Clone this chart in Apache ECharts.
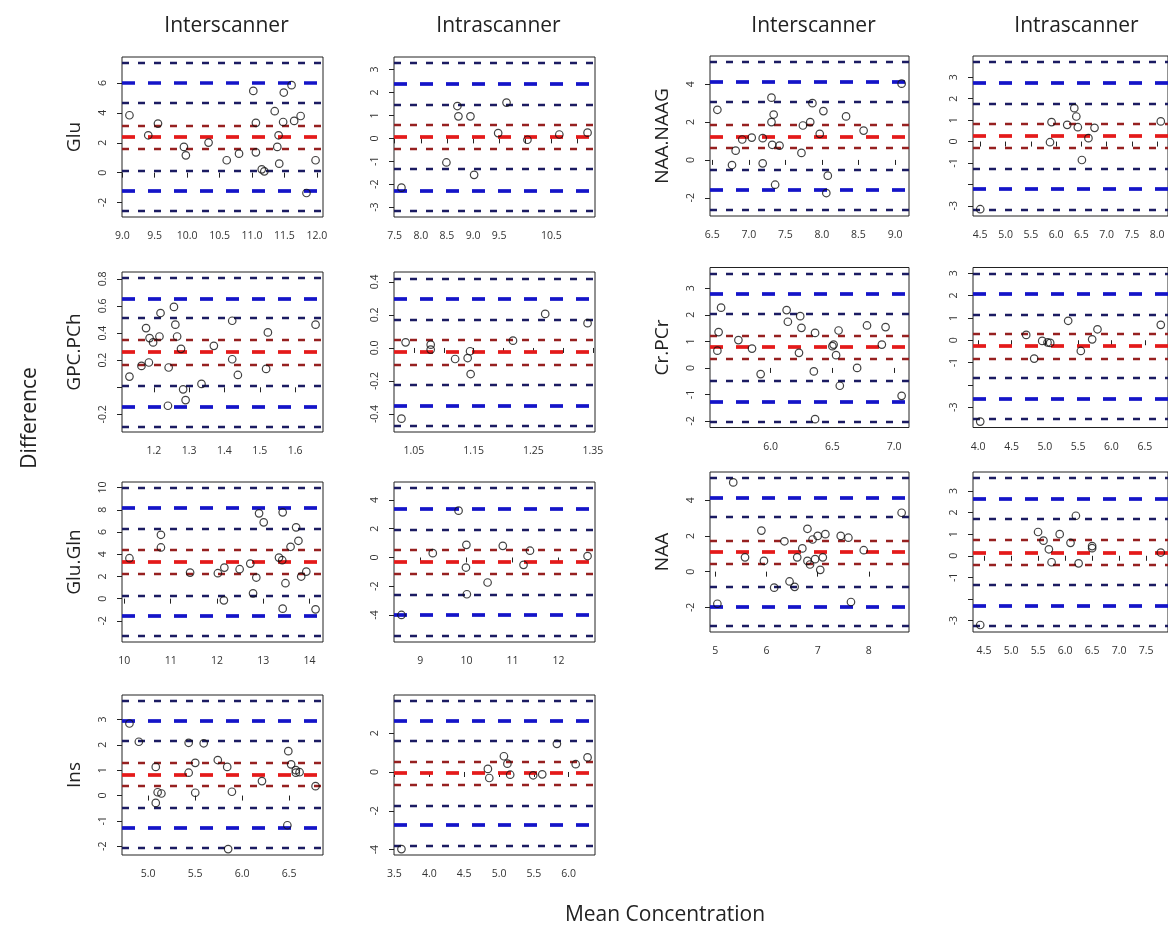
<!DOCTYPE html>
<html>
<head>
<meta charset="utf-8">
<script src="https://cdn.jsdelivr.net/npm/echarts@6/dist/echarts.min.js"></script>
<style>
  html, body { margin: 0; padding: 0; background: #fff; }
  #chart { width: 1168px; height: 931px; }
</style>
</head>
<body>
<div id="chart"></div>
<script>
// Bland-Altman agreement: each point is [mean concentration, difference].
// Each *Lines array holds, top to bottom: upper LoA CI high, upper LoA, upper LoA CI low,
// bias CI high, bias, bias CI low, lower LoA CI high, lower LoA, lower LoA CI low.

const gluInter = [[9.11,3.84],[9.40,2.50],[9.55,3.28],[9.95,1.72],[9.98,1.16],[10.33,2.01],[10.61,0.83],[10.80,1.27],[11.02,5.47],[11.06,3.33],[11.06,1.36],[11.15,0.22],[11.19,0.09],[11.35,4.11],[11.39,1.72],[11.41,2.50],[11.42,0.60],[11.48,3.39],[11.49,5.36],[11.61,5.85],[11.65,3.46],[11.75,3.79],[11.84,-1.36],[11.98,0.83]];
const gluInterLines = [7.34,6.00,4.67,3.17,2.39,1.61,0.16,-1.23,-2.57];

const gluIntra = [[7.63,-2.15],[8.49,-1.05],[8.70,1.41],[8.72,0.96],[8.95,0.96],[9.02,-1.59],[9.48,0.23],[9.64,1.56],[10.04,-0.06],[10.65,0.17],[11.19,0.25]];
const gluIntraLines = [3.29,2.39,1.48,0.58,0.06,-0.45,-1.32,-2.27,-3.17];

const gpcInter = [[1.131,0.079],[1.165,0.158],[1.178,0.437],[1.186,0.183],[1.188,0.363],[1.198,0.331],[1.216,0.375],[1.219,0.548],[1.240,-0.136],[1.242,0.146],[1.257,0.593],[1.261,0.462],[1.266,0.375],[1.277,0.284],[1.283,-0.015],[1.290,-0.094],[1.335,0.025],[1.370,0.306],[1.422,0.491],[1.422,0.207],[1.438,0.091],[1.518,0.136],[1.523,0.405],[1.658,0.462]];
const gpcInterLines = [0.807,0.654,0.506,0.346,0.259,0.173,0.010,-0.138,-0.286];

const gpcIntra = [[1.029,-0.428],[1.036,0.034],[1.078,0.020],[1.078,-0.010],[1.119,-0.067],[1.140,-0.061],[1.144,-0.020],[1.145,-0.158],[1.216,0.044],[1.270,0.206],[1.341,0.150]];
const gpcIntraLines = [0.424,0.297,0.170,0.046,-0.024,-0.097,-0.222,-0.349,-0.473];

const glxInter = [[10.11,3.64],[10.79,5.75],[10.79,4.61],[11.42,2.35],[12.02,2.29],[12.15,-0.15],[12.16,2.80],[12.49,2.65],[12.72,3.16],[12.78,0.48],[12.85,1.90],[12.91,7.68],[13.01,6.87],[13.34,3.70],[13.41,3.46],[13.42,7.77],[13.42,-0.90],[13.48,1.39],[13.59,4.67],[13.71,6.42],[13.76,5.21],[13.82,1.99],[13.93,2.44],[14.13,-0.96]];
const glxInterLines = [9.97,8.16,6.33,4.37,3.34,2.26,0.24,-1.57,-3.37];

const glxIntra = [[8.59,-4.00],[9.27,0.30],[9.83,3.26],[9.99,-0.70],[10.00,0.88],[10.01,-2.56],[10.46,-1.74],[10.79,0.81],[11.24,-0.51],[11.38,0.47],[12.63,0.10]];
const glxIntraLines = [4.84,3.37,1.91,0.51,-0.30,-1.16,-2.60,-4.02,-5.47];

const insInter = [[4.80,2.84],[4.90,2.12],[5.08,1.13],[5.08,-0.29],[5.10,0.13],[5.14,0.08],[5.43,2.08],[5.43,0.90],[5.50,1.29],[5.50,0.11],[5.59,2.06],[5.74,1.40],[5.84,1.13],[5.85,-2.11],[5.89,0.15],[6.21,0.57],[6.49,1.75],[6.48,-1.17],[6.52,1.23],[6.57,0.90],[6.57,1.00],[6.61,0.92],[6.78,0.37]];
const insInterLines = [3.73,2.94,2.15,1.29,0.83,0.37,-0.49,-1.28,-2.07];

const insIntra = [[3.60,-3.97],[4.84,0.16],[4.86,-0.31],[5.07,0.81],[5.12,0.43],[5.16,-0.14],[5.49,-0.17],[5.62,-0.12],[5.83,1.45],[6.10,0.40],[6.27,0.75]];
const insIntraLines = [3.66,2.63,1.59,0.55,-0.05,-0.67,-1.73,-2.73,-3.80];

const naagInter = [[6.57,2.65],[6.77,-0.27],[6.82,0.49],[6.91,1.08],[7.04,1.18],[7.19,1.15],[7.19,-0.18],[7.31,3.29],[7.31,2.00],[7.34,2.40],[7.32,0.80],[7.36,-1.31],[7.42,0.76],[7.72,0.37],[7.74,1.82],[7.84,2.00],[7.87,3.00],[7.97,1.38],[8.02,2.58],[8.06,-1.75],[8.08,-0.83],[8.33,2.30],[8.57,1.55],[9.09,4.03]];
const naagInterLines = [5.18,4.12,3.06,1.87,1.25,0.67,-0.53,-1.59,-2.65];

const naagIntra = [[4.50,-3.16],[5.88,-0.03],[5.91,0.91],[6.22,0.78],[6.36,1.56],[6.40,1.17],[6.43,0.67],[6.51,-0.86],[6.64,0.16],[6.76,0.64],[8.07,0.94]];
const naagIntraLines = [3.72,2.73,1.77,0.83,0.25,-0.31,-1.25,-2.22,-3.20];

const crInter = [[5.57,0.65],[5.58,1.35],[5.60,2.27],[5.74,1.05],[5.85,0.73],[5.92,-0.23],[6.13,2.18],[6.14,1.74],[6.23,0.57],[6.24,1.95],[6.25,1.51],[6.35,-0.13],[6.36,1.32],[6.36,-1.93],[6.50,0.82],[6.51,0.88],[6.53,0.48],[6.55,1.41],[6.56,-0.67],[6.70,0.00],[6.78,1.60],[6.90,0.88],[6.93,1.54],[7.06,-1.05]];
const crInterLines = [3.56,2.81,2.05,1.23,0.78,0.35,-0.48,-1.26,-2.02];

const crIntra = [[4.03,-3.64],[4.72,0.24],[4.84,-0.82],[4.96,-0.03],[5.04,-0.10],[5.08,-0.12],[5.35,0.87],[5.54,-0.48],[5.71,0.04],[5.79,0.49],[6.74,0.69]];
const crIntraLines = [2.99,2.06,1.16,0.27,-0.25,-0.81,-1.70,-2.60,-3.51];

const naaInter = [[5.04,-1.80],[5.35,5.00],[5.58,0.80],[5.90,2.30],[5.95,0.60],[6.15,-0.90],[6.35,1.70],[6.45,-0.55],[6.55,-0.85],[6.60,0.80],[6.70,1.30],[6.80,2.40],[6.80,0.60],[6.85,0.40],[6.90,1.80],[6.95,0.70],[7.00,2.00],[7.05,0.10],[7.10,0.80],[7.15,2.10],[7.45,2.00],[7.60,1.90],[7.65,-1.70],[7.90,1.20],[8.64,3.30]];
const naaInterLines = [5.25,4.15,3.05,1.75,1.10,0.45,-0.85,-1.95,-3.05];

const naaIntra = [[4.43,-3.20],[5.50,1.10],[5.60,0.70],[5.70,0.30],[5.75,-0.30],[5.90,1.00],[6.10,0.60],[6.20,1.85],[6.25,-0.35],[6.50,0.35],[6.50,0.45],[7.77,0.15]];
const naaIntraLines = [3.60,2.65,1.70,0.75,0.15,-0.40,-1.35,-2.30,-3.25];

// Tick labels (strings) and unlabelled tick positions
const gluInterXLab = ['9.0','9.5','10.0','10.5','11.0','11.5','12.0'];
const gluInterYLab = ['-2','0','2','4','6'];
const gluIntraXTick = [7.5,8,8.5,9,9.5,10,10.5,11];
const gluIntraXLab = ['7.5','8.0','8.5','9.0','9.5','10.5'];
const gluIntraYLab = ['-3','-2','-1','0','1','2','3'];
const gpcInterXLab = ['1.2','1.3','1.4','1.5','1.6'];
const gpcInterYTick = [-0.2,0,0.2,0.4,0.6,0.8];
const gpcInterYLab = ['-0.2','0.2','0.4','0.6','0.8'];
const gpcIntraXTick = [1.05,1.10,1.15,1.20,1.25,1.30,1.35];
const gpcIntraXLab = ['1.05','1.15','1.25','1.35'];
const gpcIntraYLab = ['-0.4','-0.2','0.0','0.2','0.4'];
const glxInterXLab = ['10','11','12','13','14'];
const glxInterYLab = ['-2','0','2','4','6','8','10'];
const glxIntraXLab = ['9','10','11','12'];
const glxIntraYLab = ['-4','-2','0','2','4'];
const insInterXLab = ['5.0','5.5','6.0','6.5'];
const insInterYLab = ['-2','-1','0','1','2','3','4'];
const insIntraXLab = ['3.5','4.0','4.5','5.0','5.5','6.0'];
const insIntraYLab = ['-4','-2','0','2','4'];
const naagInterXLab = ['6.5','7.0','7.5','8.0','8.5','9.0'];
const naagInterYLab = ['-2','0','2','4'];
const naagIntraXLab = ['4.5','5.0','5.5','6.0','6.5','7.0','7.5','8.0'];
const naagIntraYTick = [-3,-2,-1,0,1,2,3,4];
const naagIntraYLab = ['-3','-1','0','1','2','3','4'];
const crInterXLab = ['6.0','6.5','7.0'];
const crInterYLab = ['-2','-1','0','1','2','3'];
const crIntraXLab = ['4.0','4.5','5.0','5.5','6.0','6.5'];
const crIntraYTick = [-3,-2,-1,0,1,2,3];
const crIntraYLab = ['-3','-1','0','1','2','3'];
const naaInterXLab = ['5','6','7','8'];
const naaInterYLab = ['-2','0','2','4'];
const naaIntraXLab = ['4.5','5.0','5.5','6.0','6.5','7.0','7.5'];
const naaIntraYTick = [-3,-2,-1,0,1,2,3];
const naaIntraYLab = ['-3','-1','0','1','2','3'];

const rowNames = ['Glu','GPC.PCh','Glu.Gln','Ins','NAA.NAAG','Cr.PCr','NAA'];
const colTitles = ['Interscanner','Intrascanner','Interscanner','Intrascanner'];

// ---- layout ----
const colLeft = [122, 394, 710, 973];
const colWidth = [201, 201, 199, 199];
const rowTopL = [57, 272, 482, 695];
const rowTopR = [56, 267.5, 472];
const boxH = 160;

const panels = [
  { pts: gluInter,  lines: gluInterLines,  col: 0, top: rowTopL[0], xl: gluInterXLab,  yl: gluInterYLab },
  { pts: gluIntra,  lines: gluIntraLines,  col: 1, top: rowTopL[0], xl: gluIntraXLab,  xt: gluIntraXTick, yl: gluIntraYLab },
  { pts: gpcInter,  lines: gpcInterLines,  col: 0, top: rowTopL[1], xl: gpcInterXLab,  yl: gpcInterYLab, yt: gpcInterYTick },
  { pts: gpcIntra,  lines: gpcIntraLines,  col: 1, top: rowTopL[1], xl: gpcIntraXLab,  xt: gpcIntraXTick, yl: gpcIntraYLab },
  { pts: glxInter,  lines: glxInterLines,  col: 0, top: rowTopL[2], xl: glxInterXLab,  yl: glxInterYLab },
  { pts: glxIntra,  lines: glxIntraLines,  col: 1, top: rowTopL[2], xl: glxIntraXLab,  yl: glxIntraYLab },
  { pts: insInter,  lines: insInterLines,  col: 0, top: rowTopL[3], xl: insInterXLab,  yl: insInterYLab },
  { pts: insIntra,  lines: insIntraLines,  col: 1, top: rowTopL[3], xl: insIntraXLab,  yl: insIntraYLab },
  { pts: naagInter, lines: naagInterLines, col: 2, top: rowTopR[0], xl: naagInterXLab, yl: naagInterYLab },
  { pts: naagIntra, lines: naagIntraLines, col: 3, top: rowTopR[0], xl: naagIntraXLab, yl: naagIntraYLab, yt: naagIntraYTick },
  { pts: crInter,   lines: crInterLines,   col: 2, top: rowTopR[1], xl: crInterXLab,   yl: crInterYLab },
  { pts: crIntra,   lines: crIntraLines,   col: 3, top: rowTopR[1], xl: crIntraXLab,   yl: crIntraYLab, yt: crIntraYTick },
  { pts: naaInter,  lines: naaInterLines,  col: 2, top: rowTopR[2], xl: naaInterXLab,  yl: naaInterYLab },
  { pts: naaIntra,  lines: naaIntraLines,  col: 3, top: rowTopR[2], xl: naaIntraXLab,  yl: naaIntraYLab, yt: naaIntraYTick }
];

// line styles by position in the *Lines arrays
const NAVY = '#1b1b62', BLUE = '#1414c8', RED = '#e41a1a', DKRED = '#962020';
const thin = c => ({ color: c, width: 2.3, type: [7, 9], cap: 'butt' });
const thick = c => ({ color: c, width: 3.7, type: [13, 13], cap: 'butt' });
const lineStyles = [thin(NAVY), thick(BLUE), thin(NAVY), thin(DKRED), thick(RED), thin(DKRED), thin(NAVY), thick(BLUE), thin(NAVY)];

// R-style axis extent: data range padded by 4% each side
function padRange(vals) {
  const lo = Math.min(...vals), hi = Math.max(...vals), d = (hi - lo) * 0.04;
  return [lo - d, hi + d];
}

const grids = [], xAxes = [], yAxes = [], series = [];
const tickFont = { fontFamily: 'Open Sans, Liberation Sans, sans-serif', fontSize: 10.5, color: '#333' };

panels.forEach((p, i) => {
  grids.push({ left: colLeft[p.col], top: p.top, width: colWidth[p.col], height: boxH,
    show: true, borderColor: '#222', borderWidth: 1, backgroundColor: 'transparent' });
  const xr = padRange(p.pts.map(d => d[0]));
  const yr = padRange(p.pts.map(d => d[1]).concat(p.lines));
  const xv = p.xl.map(Number), yv = p.yl.map(Number);
  xAxes.push({ gridIndex: i, type: 'value', min: xr[0], max: xr[1],
    axisLine: { show: false }, splitLine: { show: false },
    axisTick: { show: true, customValues: p.xt || xv, length: 5, lineStyle: { color: '#222', width: 1 } },
    axisLabel: Object.assign({ customValues: xv, margin: 14,
      formatter: v => p.xl[xv.findIndex(t => Math.abs(t - v) < 1e-9)] || '' }, tickFont) });
  yAxes.push({ gridIndex: i, type: 'value', min: yr[0], max: yr[1],
    axisLine: { show: false }, splitLine: { show: false },
    axisTick: { show: true, customValues: p.yt || yv, length: 5, lineStyle: { color: '#222', width: 1 } },
    axisLabel: Object.assign({ customValues: yv, margin: 13, rotate: 90,
      formatter: v => p.yl[yv.findIndex(t => Math.abs(t - v) < 1e-9)] || '' }, tickFont) });
  series.push({ type: 'line', xAxisIndex: i, yAxisIndex: i, data: [], silent: true,
    markLine: { symbol: ['none', 'none'], silent: true, animation: false, label: { show: false },
      data: p.lines.map((v, k) => ({ yAxis: v, lineStyle: lineStyles[k] })) } });
  series.push({ type: 'scatter', xAxisIndex: i, yAxisIndex: i, data: p.pts, z: 10, silent: true,
    symbol: 'circle', symbolSize: 7.5,
    itemStyle: { color: 'rgba(0,0,0,0)', borderColor: '#111', borderWidth: 1.2 } });
});

// text: column titles, row labels, axis titles
const textFont = 'Open Sans, Liberation Sans, sans-serif';
const graphics = [];
colTitles.forEach((t, c) => {
  graphics.push({ type: 'text', x: colLeft[c] + colWidth[c] / 2 + 4, y: 26,
    style: { text: t, fontSize: 21, fontFamily: textFont, fill: '#222', textAlign: 'center', textVerticalAlign: 'middle' } });
});
const rowLabelPos = [
  [75, rowTopL[0]], [75, rowTopL[1]], [75, rowTopL[2]], [75, rowTopL[3]],
  [663, rowTopR[0]], [663, rowTopR[1]], [663, rowTopR[2]]
];
rowNames.forEach((t, r) => {
  graphics.push({ type: 'text', x: rowLabelPos[r][0], y: rowLabelPos[r][1] + boxH / 2, rotation: Math.PI / 2,
    style: { text: t, fontSize: 19, fontFamily: textFont, fill: '#222', textAlign: 'center', textVerticalAlign: 'middle' } });
});
graphics.push({ type: 'text', x: 30, y: 418, rotation: Math.PI / 2,
  style: { text: 'Difference', fontSize: 21, fontFamily: textFont, fill: '#222', textAlign: 'center', textVerticalAlign: 'middle' } });
graphics.push({ type: 'text', x: 665, y: 915,
  style: { text: 'Mean Concentration', fontSize: 21, fontFamily: textFont, fill: '#222', textAlign: 'center', textVerticalAlign: 'middle' } });

const chart = echarts.init(document.getElementById('chart'), null, { renderer: 'canvas' });
chart.setOption({
  animation: false,
  backgroundColor: '#fff',
  grid: grids, xAxis: xAxes, yAxis: yAxes, series: series, graphic: graphics
});
</script>
</body>
</html>
